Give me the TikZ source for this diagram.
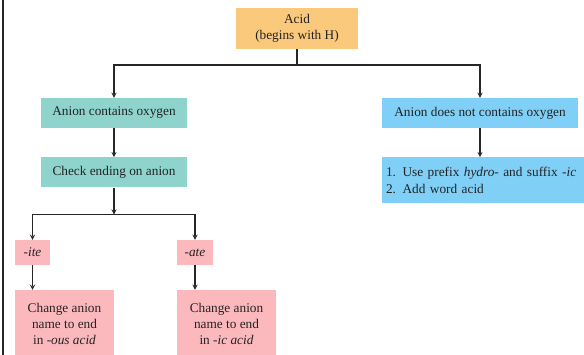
\documentclass[tikz,border=0pt]{standalone}
\usepackage{fontspec}
\setmainfont{Liberation Serif}
\usetikzlibrary{arrows, positioning, calc}
\definecolor{acidColor}{RGB}{251,201,124}
\definecolor{oxyColor}{RGB}{142,212,205}
\definecolor{noOxyColor}{RGB}{128,207,246}
\definecolor{endColor}{RGB}{251,184,189}
\definecolor{textColor}{RGB}{35,35,35}
\tikzstyle{box} = [rectangle, inner sep=0pt, text centered, align=center, text=textColor, font=\fontsize{13.3}{16.3}\selectfont]
\tikzstyle{acid} = [box, fill=acidColor, minimum width=122pt, minimum height=41pt]
\tikzstyle{oxy} = [box, fill=oxyColor, minimum width=146pt, minimum height=30pt]
\tikzstyle{nooxy} = [box, fill=noOxyColor, minimum height=30pt]
\tikzstyle{ending} = [box, fill=endColor, minimum height=25pt]
\tikzstyle{change} = [box, fill=endColor, minimum width=99pt, minimum height=68pt]
\tikzstyle{link} = [line width=1.3pt, draw=black!85]

\begin{document}
\begin{tikzpicture}[x=1pt, y=1pt, node distance=29pt]
			\useasboundingbox (0,0) rectangle (584,355);
			\draw[link] (3,0) -- (3,355);
			
			\node (acid) [acid] at (297,326.5) {Acid\\(begins with H)};
			\node (oxy) [oxy] at (114,242) {Anion contains oxygen};
			\node (noOxy) [nooxy, minimum width=196pt] at (480,242) {Anion does not contains oxygen};
			\node (check) [oxy, below=of oxy] {Check ending on anion};
			\node (rules) [nooxy, align=left, text width=194pt, inner xsep=4pt, minimum height=46pt, below=of noOxy, xshift=3pt] {1. Use prefix \emph{hydro}- and suffix \emph{-ic}\\2. Add word acid};
			\node (ite) [ending, minimum width=35pt] at (32.5,102.5) {\emph{-ite}};
			\node (ate) [ending, minimum width=36pt] at (195,102.5) {\emph{-ate}};
			\node (ous) [change] at (64.5,31) {Change anion\\name to end\\in \emph{-ous acid}};
			\node (ic) [change] at (226.5,31) {Change anion\\name to end\\in \emph{-ic acid}};
			
			\coordinate (split) at (297,290);
			\coordinate (fork) at ($ (check.south) + (0,-27) $);
			\draw[link] (acid) -- (split);
			\draw[link,->,>=stealth] (split) -| (oxy);
			\draw[link,->,>=stealth] (split) -| (noOxy);
			\draw[link,->,>=stealth] (oxy) -- (check);
			\draw[link,->,>=stealth] (noOxy) -- (noOxy |- rules.north);
			\draw[link,->,>=stealth] (check) -- (fork);
			\draw[link,->,>=stealth] (fork) -| (ite);
			\draw[link,->,>=stealth] (fork) -| (ate);
			\draw[link,->,>=stealth] (ite) -- (ite |- ous.north);
			\draw[link,->,>=stealth] (ate) -- (ate |- ic.north);
			\end{tikzpicture}
\end{document}
